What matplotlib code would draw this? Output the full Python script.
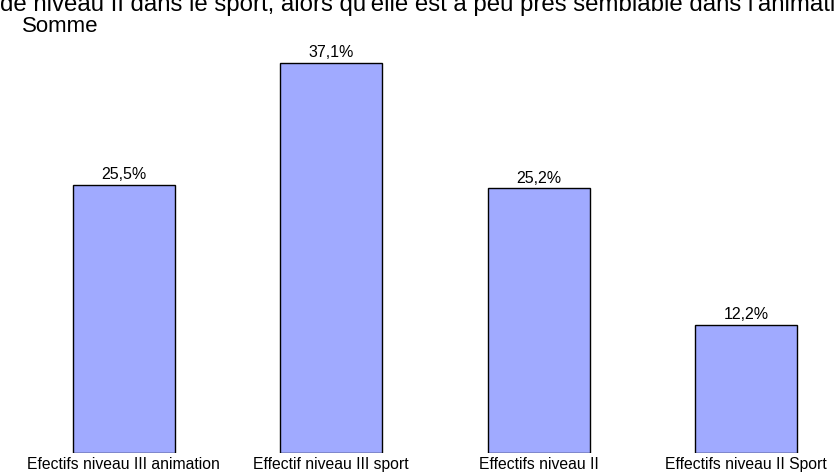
import matplotlib
matplotlib.use("Agg")
import matplotlib.pyplot as plt

plt.rcParams["font.family"] = ["Liberation Sans", "DejaVu Sans"]

categories = [
    "Efectifs niveau III animation",
    "Effectif niveau III sport",
    "Effectifs niveau II",
    "Effectifs niveau II Sport",
]
values = [25.5, 37.1, 25.2, 12.2]
value_labels = ["25,5%", "37,1%", "25,2%", "12,2%"]

title_line = "de niveau II dans le sport, alors qu'elle est à peu près semblable dans l'animation"
field_label = "Somme"

W, H = 835, 473
fig = plt.figure(figsize=(W / 100, H / 100), dpi=100)

# axes in pixel terms: baseline at y=20px from bottom, 10.51 px per percent
px_per_unit = 207.5
left_px = 20
ax = fig.add_axes([left_px / W, 20 / H, (W - left_px) / W, 40 * 10.51 / H])
ax.set_xlim(-0.5, -0.5 + (W - left_px) / px_per_unit)
ax.set_ylim(0, 40)

x = list(range(len(categories)))
ax.bar(x, values, width=0.49, color="#A0AAFF", edgecolor="black", linewidth=1.0)

for xi, v, lab in zip(x, values, value_labels):
    ax.text(xi, v + 0.25, lab, ha="center", va="bottom", fontsize=11.5)

ax.set_xticks(x)
ax.set_xticklabels(categories, fontsize=11.3)
ax.tick_params(axis="x", length=0, pad=3)
ax.set_yticks([])
for spine in ax.spines.values():
    spine.set_visible(False)

# heading runs past the figure edges, only its lower part shows
fig.text(0 / W, 1 - 11 / H, title_line, fontsize=17.3, ha="left", va="baseline")
fig.text(22 / W, 1 - 32 / H, field_label, fontsize=16, ha="left", va="baseline")

fig.savefig("out.png", dpi=100)
